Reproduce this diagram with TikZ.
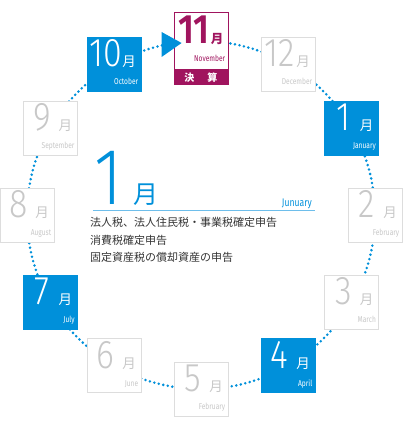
\documentclass[tikz,border=0pt]{standalone}
\usepackage{fontspec}
\usetikzlibrary{calc}
\setmainfont{Fira Sans}
\newfontfamily\numfont{Fira Sans Light}[FakeStretch=0.85]
\newfontfamily\numbfont{Fira Sans SemiBold}[FakeStretch=0.85]
\newfontfamily\condfont{Fira Sans}[FakeStretch=0.78]
\newfontfamily\jpfont{Noto Sans CJK JP}
\definecolor{mblue}{RGB}{0,144,218}
\definecolor{mpink}{RGB}{160,20,94}
\definecolor{gline}{RGB}{221,221,221}
\definecolor{gtext}{RGB}{200,200,200}
\definecolor{ltblue}{RGB}{110,190,235}
\definecolor{jtext}{RGB}{51,51,51}
\begin{document}
\begin{tikzpicture}[x=1pt,y=1pt,
  mbox/.style={minimum width=54pt,minimum height=54pt,inner sep=0pt,line width=0.8pt},
  grayb/.style={mbox,draw=gline,fill=white},
  blueb/.style={mbox,draw=mblue,fill=mblue},
  pinkb/.style={mbox,minimum height=57pt,draw=mpink,fill=white},
  numtxt/.style={inner sep=0pt,anchor=base,font=\numfont\fontsize{40}{40}\selectfont},
  tsuki/.style={inner sep=0pt,anchor=base west,font=\jpfont\fontsize{13.5}{13.5}\selectfont},
  mname/.style={inner sep=0pt,anchor=base east,font=\condfont\fontsize{8.5}{8.5}\selectfont},
  dotline/.style={draw=mblue,line width=2.8pt,line cap=round,dash pattern=on 0pt off 4.6pt},
  jline/.style={inner sep=0pt,anchor=base west,text=jtext,font=\jpfont\fontsize{11}{11}\selectfont},
]
\useasboundingbox (-201,-208) rectangle (202,215);
\coordinate (c) at (0,0);
\draw[dotline] (c) circle (174);
\foreach \a/\n/\m/\s/\c in {60/12/December/grayb/gtext, 30/1/January/blueb/white,
  0/2/February/grayb/gtext, -30/3/March/grayb/gtext, -60/4/April/blueb/white,
  -90/5/February/grayb/gtext, -120/6/June/grayb/gtext, -150/7/July/blueb/white,
  180/8/August/grayb/gtext, 150/9/September/grayb/gtext, 120/10/October/blueb/white} {
  \node[\s] (m\n) at (\a:174) {};
  \node[numtxt,text=\c] (d\n) at ($(m\n.north west)+(19,-30)$) {\n};
  \node[tsuki,text=\c] (t\n) at ($(m\n.north west)+(35.5,-30)$) {月};
  \node[mname,text=\c] (n\n) at ($(m\n.south east)+(-3,7)$) {\m};
}
% November box
\node[pinkb] (m11) at (0,174) {};
\node[fill=mpink,draw=mpink,line width=0.8pt,minimum width=54pt,minimum height=14pt,inner sep=0pt,anchor=north,text=white,font=\jpfont\fontsize{10}{10}\selectfont\bfseries] (b11) at (m11.south) {決\hspace{13pt}算};
\node[inner sep=0pt,anchor=base,text=mpink,font=\numbfont\fontsize{41}{41}\selectfont] (d11) at ($(m11.north west)+(20.5,-31)$) {11};
\node[inner sep=0pt,anchor=base west,text=mpink,font=\jpfont\fontsize{12.5}{12.5}\selectfont\bfseries] (t11) at ($(m11.north west)+(37,-31)$) {月};
\node[mname,text=mpink] (n11) at ($(m11.south east)+(-3,8)$) {November};
\fill[mblue] ($(m11.west)+(-12,9)$) -- ($(m11.west)+(8,-2)$) -- ($(m11.west)+(-12,-16)$) -- cycle;
% centre
\node[inner sep=0pt,anchor=base,text=mblue,font=\numfont\fontsize{80}{80}\selectfont] (bigone) at (-92,10) {1};
\node[inner sep=0pt,anchor=base,text=mblue,font=\jpfont\fontsize{25}{25}\selectfont] (bigtsuki) at (-55,11) {月};
\node[inner sep=0pt,anchor=base east,text=mblue,font=\condfont\fontsize{11}{11}\selectfont] (jun) at (111,9) {Junuary};
\coordinate (ra) at (-108,5);
\coordinate (rb) at (114,5);
\draw[ltblue,line width=0.8pt] (ra) -- (rb);
\node[jline] (j1) at (-111,-12) {法人税、法人住民税・事業税確定申告};
\node[jline] (j2) at (-111,-29) {消費税確定申告};
\node[jline] (j3) at (-111,-46) {固定資産税の償却資産の申告};
\end{tikzpicture}
\end{document}
